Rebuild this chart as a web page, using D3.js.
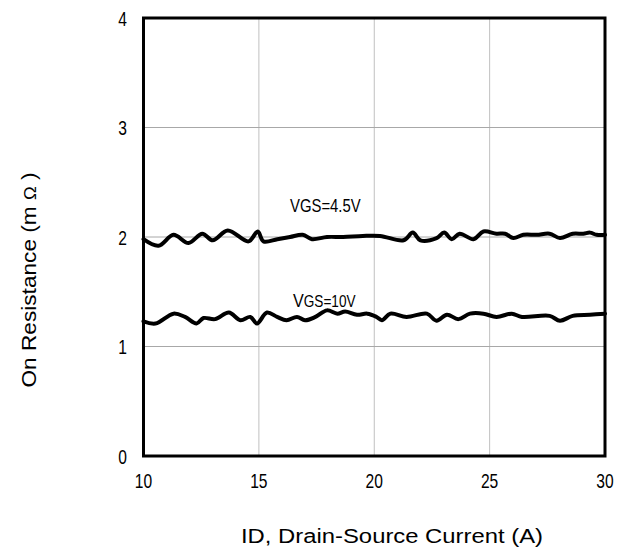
<!DOCTYPE html>
<html><head><meta charset="utf-8">
<script src="https://cdn.jsdelivr.net/npm/d3@7"></script>
<style>body{margin:0;background:#fff}svg{display:block}text{font-family:"Liberation Sans",Arial,sans-serif;fill:#000}</style>
</head><body><svg id="c" width="629" height="551"></svg>
<script>
const xTicks = [10, 15, 20, 25, 30];
const yTicks = [0, 1, 2, 3, 4];
const seriesNames = ["VGS=4.5V", "VGS=10V"];
const vgs45X = [10.0,10.65,11.3,11.95,12.55,13.0,13.65,14.55,14.95,15.2,15.8,16.35,16.9,17.3,17.95,18.65,19.5,20.25,21.27,21.67,22.0,22.7,23.03,23.36,23.7,24.3,24.73,25.3,25.67,26.03,26.46,27.04,27.6,28.05,28.6,29.06,29.35,29.64,30];
const vgs45Y = [1.98,1.92,2.02,1.945,2.03,1.97,2.06,1.96,2.05,1.96,1.98,2.0,2.02,1.98,2.0,2.0,2.01,2.01,1.97,2.04,1.97,1.99,2.04,1.98,2.03,1.98,2.05,2.03,2.03,1.99,2.02,2.02,2.03,1.99,2.03,2.03,2.04,2.02,2.02];
const vgs10X = [10,10.52,11.3,11.8,12.3,12.6,13.1,13.7,14.2,14.63,14.92,15.35,15.79,16.2,16.65,17.0,17.45,17.95,18.4,18.74,19.25,19.7,20.1,20.33,20.7,21.4,22.28,22.7,23.15,23.65,24.15,24.73,25.3,25.96,26.4,27.6,28.05,28.6,29.35,30];
const vgs10Y = [1.23,1.21,1.30,1.27,1.21,1.26,1.25,1.31,1.24,1.27,1.21,1.31,1.27,1.24,1.27,1.24,1.27,1.33,1.30,1.32,1.29,1.30,1.27,1.24,1.30,1.27,1.30,1.235,1.29,1.25,1.30,1.30,1.27,1.30,1.27,1.28,1.235,1.28,1.29,1.30];

const svg = d3.select("#c");
const x = d3.scaleLinear().domain([10, 30]).range([143.5, 605]);
const y = d3.scaleLinear().domain([0, 4]).range([456, 18]);

// grid
const g = svg.append("g");
g.selectAll("line.gx").data(xTicks.slice(1, -1)).join("line")
  .attr("x1", d => x(d)).attr("x2", d => x(d)).attr("y1", y(0)).attr("y2", y(4))
  .attr("stroke", "#c0c0c0").attr("stroke-width", 1);
g.selectAll("line.gy").data(yTicks.slice(1, -1)).join("line")
  .attr("y1", d => y(d)).attr("y2", d => y(d)).attr("x1", x(10)).attr("x2", x(30))
  .attr("stroke", "#a8a8a8").attr("stroke-width", 1);

// curves
const line = d3.line().x(d => x(d[0])).y(d => y(d[1])).curve(d3.curveCatmullRom.alpha(0.5));
[[vgs45X, vgs45Y], [vgs10X, vgs10Y]].forEach(([xs, ys]) => {
  svg.append("path").datum(xs.map((v, i) => [v, ys[i]]))
    .attr("d", line).attr("fill", "none").attr("stroke", "#000")
    .attr("stroke-width", 4).attr("stroke-linejoin", "round").attr("stroke-linecap", "round");
});

// frame
svg.append("rect").attr("x", x(10)).attr("y", y(4)).attr("width", x(30) - x(10)).attr("height", y(0) - y(4))
  .attr("fill", "none").attr("stroke", "#000").attr("stroke-width", 3);

// tick labels (narrow)
svg.selectAll("text.xt").data(xTicks).join("text")
  .attr("transform", d => `translate(${x(d)},488) scale(0.78,1)`).attr("text-anchor", "middle")
  .attr("font-size", 20).text(d => d);
svg.selectAll("text.yt").data(yTicks).join("text")
  .attr("transform", d => `translate(127,${y(d) + 7.5}) scale(0.78,1)`).attr("text-anchor", "end")
  .attr("font-size", 20).text(d => d);

// series labels
svg.append("text").attr("transform", "translate(290,212) scale(0.85,1)").attr("font-size", 17.5)
  .text(seriesNames[0]);
const t2 = svg.append("text").attr("transform", "translate(293,306.5) scale(0.85,1)");
t2.append("tspan").attr("font-size", 19).text(seriesNames[1].slice(0, 1));
t2.append("tspan").attr("font-size", 16).text(seriesNames[1].slice(1));

// axis titles
svg.append("text").attr("x", 392).attr("y", 543).attr("text-anchor", "middle")
  .attr("font-size", 20).attr("textLength", 302).attr("lengthAdjust", "spacingAndGlyphs")
  .text("ID, Drain-Source Current (A)");
const yt = svg.append("text").attr("transform", "translate(36,280) rotate(-90)").attr("text-anchor", "middle")
  .attr("font-size", 21).attr("textLength", 215).attr("lengthAdjust", "spacingAndGlyphs");
yt.append("tspan").text("On Resistance (m ");
yt.append("tspan").attr("font-size", 17).text("\u03A9");
yt.append("tspan").text(" )");
</script></body></html>
